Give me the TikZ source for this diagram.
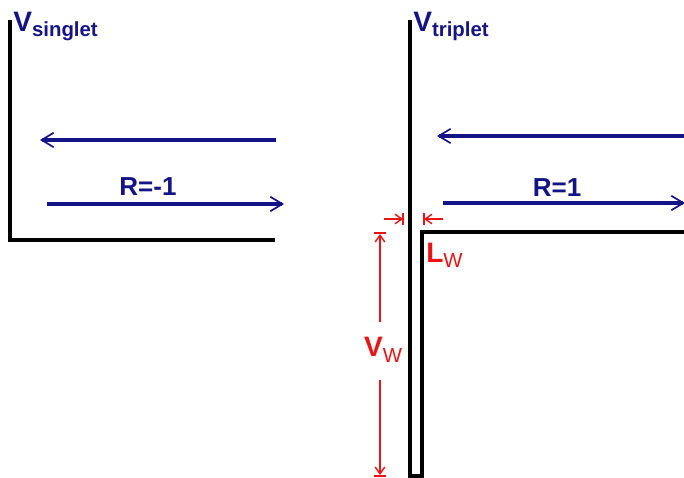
\documentclass[tikz,border=0pt]{standalone}
\usepackage{fontspec}
\setmainfont{Liberation Sans}
\usetikzlibrary{arrows.meta, positioning}
\definecolor{navy}{RGB}{20,20,135}
\definecolor{wred}{RGB}{235,20,20}

\begin{document}
\begin{tikzpicture}[
  x=0.025cm, y=-0.025cm,
  wall/.style={line width=2.5pt, black},
  wave/.style={-{Straight Barb[length=3mm, width=3.6mm, line width=1.2pt]}, line width=2.8pt, navy},
  dim/.style={line width=1.4pt, wred},
  dimtip/.style={dim, -{Straight Barb[length=1.7mm, width=2.4mm, line width=1pt]}},
  lbl/.style={inner sep=0pt, anchor=base west, font=\bfseries, navy},
  rlbl/.style={inner sep=0pt, font=\bfseries\fontsize{18.5}{18.5}\selectfont, navy}
]
\useasboundingbox (0,0) rectangle (684,478);
% singlet panel
\draw[wall] (10,20) -- (10,240) -- (275,240);
\node[lbl] (vs) at (13,32) {\fontsize{20}{20}\selectfont V\raisebox{-3pt}{\fontsize{14.5}{14.5}\selectfont singlet}};
\coordinate (sinA) at (276,140);
\coordinate (sinB) at (40,140);
\coordinate (soutA) at (47,204);
\coordinate (soutB) at (284,204);
\draw[wave] (sinA) -- (sinB);
\draw[wave] (soutA) -- (soutB);
\node[rlbl] (rs) at (148,187) {R=-1};
% triplet panel
\draw[wall] (410,20) -- (410,476) -- (422,476) -- (422,232) -- (686,232);
\node[lbl] (vt) at (413,32) {\fontsize{20}{20}\selectfont V\raisebox{-3pt}{\fontsize{14.5}{14.5}\selectfont triplet}};
\coordinate (tinA) at (686,136);
\coordinate (tinB) at (437,136);
\coordinate (toutA) at (443,203);
\coordinate (toutB) at (685,203);
\draw[wave] (tinA) -- (tinB);
\draw[wave] (toutA) -- (toutB);
\node[rlbl] (rt) at (557,188) {R=1};
% well width
\draw[dimtip] (384,219) -- (403,219);
\draw[dim] (403,213) -- (403,225);
\draw[dimtip] (443,219) -- (424,219);
\draw[dim] (424,213) -- (424,225);
\node[inner sep=0pt, anchor=base west, wred] (lw) at (426,263)
  {\bfseries\fontsize{20}{20}\selectfont L\raisebox{-3pt}{\mdseries\fontsize{14.5}{14.5}\selectfont W}};
% well depth
\node[inner sep=0pt, wred] (vw) at (383,350)
  {\bfseries\fontsize{20}{20}\selectfont V\raisebox{-4pt}{\mdseries\fontsize{14.5}{14.5}\selectfont W}};
\draw[dim] (374,233) -- (386,233);
\draw[dim] (374,476) -- (386,476);
\draw[dimtip] (380,322) -- (380,234);
\draw[dimtip] (380,380) -- (380,475);
\end{tikzpicture}
\end{document}
